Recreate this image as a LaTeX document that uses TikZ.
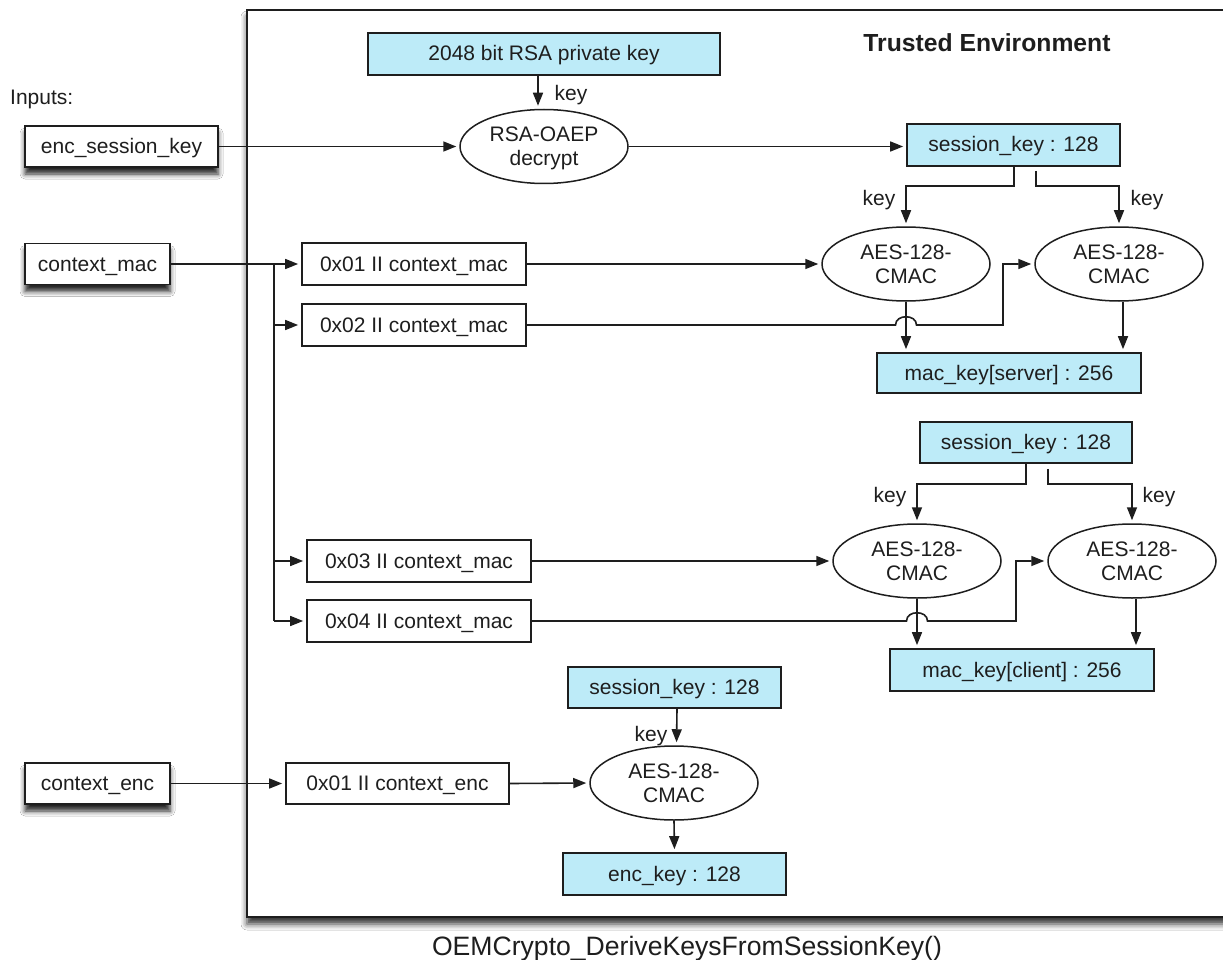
\documentclass[tikz,border=0pt]{standalone}
\usepackage{fontspec}
\setmainfont{Liberation Sans}
\usetikzlibrary{arrows.meta,shapes.geometric,shadows.blur,calc}
\definecolor{keyblue}{HTML}{BDEBF8}
\definecolor{ink}{HTML}{1E1E1E}
\begin{document}
\begin{tikzpicture}[x=1pt,y=-1pt,
  font=\fontsize{21}{24}\selectfont,
  box/.style={draw=ink, line width=1.7pt, rectangle, inner sep=0pt, text height=16pt, text depth=2pt, text=ink},
  inbox/.style={box, fill=white, blur shadow={shadow xshift=0pt, shadow yshift=-7pt, shadow blur radius=5pt, shadow opacity=85}},
  keybox/.style={box, fill=keyblue},
  plainbox/.style={box, fill=white},
  op/.style={ellipse, draw=ink, line width=1.5pt, fill=white, minimum width=168pt, minimum height=74pt, inner sep=0pt, align=center, text=ink, text depth=0pt},
  conn/.style={draw=ink, line width=1.6pt},
  arr/.style={conn, -{Triangle[length=13pt,width=10pt]}, shorten >=3pt},
  lbl/.style={text=ink, inner sep=0pt, text height=16pt, text depth=2pt},
]
\useasboundingbox (0,0) rectangle (1223,960);
\clip (0,0) rectangle (1223,960);
\fill[white] (0,0) rectangle (1223,960);

% trusted environment frame
\draw[draw=ink, line width=2.4pt, fill=white,
  blur shadow={shadow xshift=0pt, shadow yshift=-7pt, shadow blur radius=6pt, shadow opacity=80}]
  (247,10) rectangle (1250,917);
\node[anchor=base, font=\fontsize{24.7}{28}\selectfont\bfseries, text=ink] (title) at (987,51.5) {Trusted Environment};
\node[lbl, anchor=west] (inputs) at (10,98) {Inputs:};

% inputs
\node[inbox, minimum width=193pt, minimum height=41pt] (esk) at (121.5,146.5) {enc\_session\_key};
\node[inbox, minimum width=145pt, minimum height=41pt] (cmac) at (97.5,264) {context\_mac};
\node[inbox, minimum width=145pt, minimum height=41pt] (cenc) at (97.5,783.5) {context\_enc};

% top part
\node[keybox, minimum width=352pt, minimum height=42pt] (rsakey) at (544,54) {2048 bit RSA private key};
\node[op] (rsa) at (544,146.5) {RSA-OAEP\\decrypt};
\node[keybox, minimum width=213pt, minimum height=42pt] (sk1) at (1013.5,145) {session\_key : 128};
\node[plainbox, minimum width=224pt, minimum height=42pt] (m01) at (414,264) {0x01 II context\_mac};
\node[plainbox, minimum width=224pt, minimum height=42pt] (m02) at (414,325) {0x02 II context\_mac};
\node[op] (aes1) at (906,264) {AES-128-\\CMAC};
\node[op] (aes2) at (1119,264) {AES-128-\\CMAC};
\node[keybox, minimum width=264pt, minimum height=40pt] (macs) at (1009,373) {mac\_key[server] : 256};

% middle part
\node[keybox, minimum width=212pt, minimum height=41pt] (sk2) at (1026,442.5) {session\_key : 128};
\node[plainbox, minimum width=224pt, minimum height=42pt] (m03) at (419,561) {0x03 II context\_mac};
\node[plainbox, minimum width=224pt, minimum height=42pt] (m04) at (419,621) {0x04 II context\_mac};
\node[op] (aes3) at (917,561) {AES-128-\\CMAC};
\node[op] (aes4) at (1132,561) {AES-128-\\CMAC};
\node[keybox, minimum width=264pt, minimum height=42pt] (macc) at (1022,670) {mac\_key[client] : 256};

% bottom part
\node[keybox, minimum width=213pt, minimum height=41pt] (sk3) at (674.5,687.5) {session\_key : 128};
\node[op] (aes5) at (674,783) {AES-128-\\CMAC};
\node[plainbox, minimum width=223pt, minimum height=41pt] (e01) at (397.5,783.5) {0x01 II context\_enc};
\node[keybox, minimum width=223pt, minimum height=42pt] (enck) at (674.5,874) {enc\_key : 128};

% key labels
\node[lbl] (kl0) at (571,94) {key};
\node[lbl] (kl1) at (879,198) {key};
\node[lbl] (kl2) at (1147,198) {key};
\node[lbl] (kl3) at (890,495) {key};
\node[lbl] (kl4) at (1159,495) {key};
\node[lbl] (kl5) at (651,734) {key};

\node[anchor=base, font=\fontsize{26.6}{30}\selectfont, text=ink] (cap) at (687,955) {OEMCrypto\_DeriveKeysFromSessionKey()};

% connectors: top
\draw[arr] (esk.east) -- (rsa.west);
\draw[arr] ([xshift=-6pt]rsakey.south) -- ([xshift=-6pt]rsa.north);
\draw[arr] (rsa.east) -- (rsa.east -| sk1.west);
\draw[arr] ([xshift=0.5pt]sk1.south) -- ++(0,19) -| (aes1.north);
\draw[arr] ([xshift=22.5pt,yshift=-4pt]sk1.south) -- ++(0,15) -| (aes2.north);

\coordinate (br) at (274,264);
\draw[arr] (cmac.east) -- (m01.west);
\draw[conn] (br) -- (br |- m04.west);
\draw[arr] (br |- m02.west) -- (m02.west);
\draw[arr] (br |- m03.west) -- (m03.west);
\draw[arr] (br |- m04.west) -- (m04.west);

\draw[arr] (m01.east) -- (aes1.west);
\coordinate (h1) at (aes1.south |- m02.east);
\coordinate (r1) at (1003,325);
\draw[arr] (m02.east) -- ([xshift=-10.5pt]h1) .. controls +(0,-11) and +(0,-11) .. ([xshift=10.5pt]h1) -- (r1) |- (aes2.west);
\draw[arr] (aes1.south) -- (aes1.south |- macs.north);
\draw[arr] ([xshift=4pt]aes2.south) -- ([xshift=4pt]aes2.south |- macs.north);

% connectors: middle
\draw[arr] (sk2.south) -- ++(0,20) -| (aes3.north);
\draw[arr] ([xshift=22pt,yshift=-5pt]sk2.south) -- ++(0,15) -| (aes4.north);
\draw[arr] (m03.east) -- (aes3.west);
\coordinate (h2) at (aes3.south |- m04.east);
\coordinate (r2) at (1016,621);
\draw[arr] (m04.east) -- ([xshift=-10.5pt]h2) .. controls +(0,-11) and +(0,-11) .. ([xshift=10.5pt]h2) -- (r2) |- (aes4.west);
\draw[arr] (aes3.south) -- (aes3.south |- macc.north);
\draw[arr] ([xshift=4pt]aes4.south) -- ([xshift=4pt]aes4.south |- macc.north);

% connectors: bottom
\draw[arr] ([xshift=2.5pt]sk3.south) -- ([xshift=2.5pt]aes5.north);
\draw[arr] (cenc.east) -- (e01.west);
\draw[arr] (e01.east) -- (aes5.west);
\draw[arr] (aes5.south) -- (enck.north);
\end{tikzpicture}
\end{document}
